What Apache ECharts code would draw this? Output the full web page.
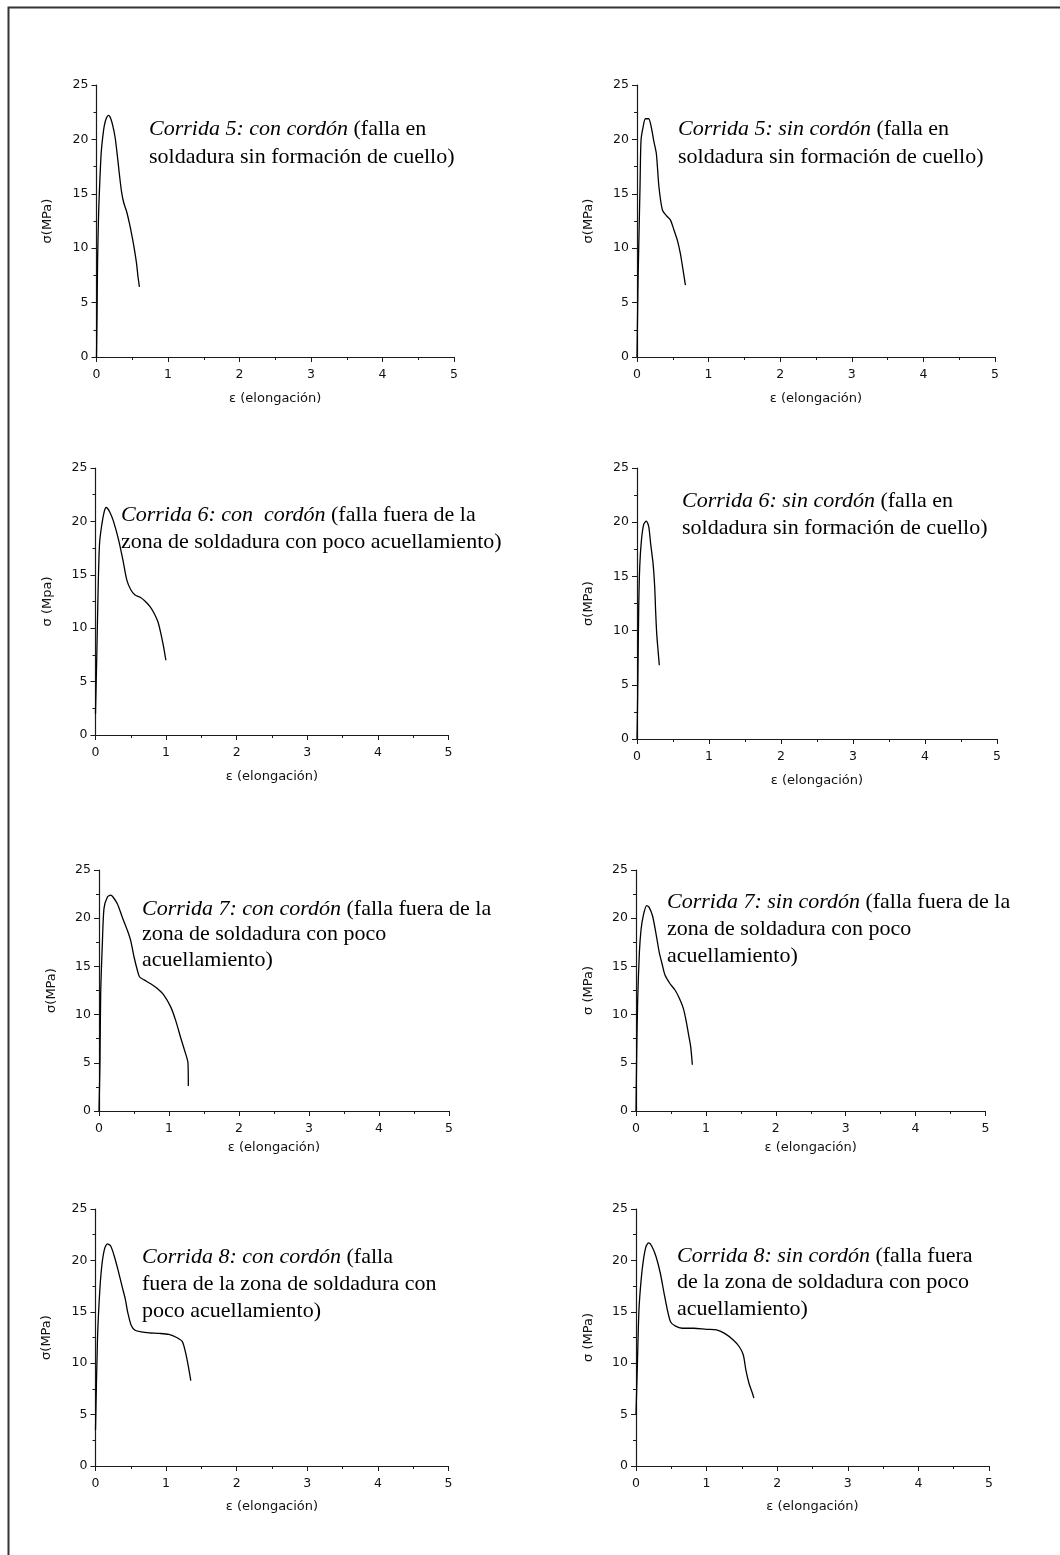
<!DOCTYPE html>
<html>
<head>
<meta charset="utf-8">
<script src="https://cdn.jsdelivr.net/npm/echarts@6/dist/echarts.min.js"></script>
<style>
html,body{margin:0;padding:0;background:#fff;}
#chart{width:1060px;height:1555px;}
</style>
</head>
<body>
<div id="chart"></div>
<script>
// ---- tick labels ----
var xTicks = [0, 1, 2, 3, 4, 5];
var yTicks = [0, 5, 10, 15, 20, 25];

// ---- Corrida 5: con cordón ----
var eps5con = [0, 0.008, 0.015, 0.03, 0.048, 0.066, 0.085, 0.11, 0.14, 0.17, 0.2, 0.23, 0.26, 0.29, 0.32, 0.35, 0.38, 0.42, 0.46, 0.5, 0.53, 0.56, 0.58, 0.6];
var sig5con = [0, 4, 8.8, 13.3, 16.4, 18.8, 20.1, 21.3, 22.0, 22.2, 21.9, 21.2, 20.2, 18.6, 16.8, 15.2, 14.2, 13.4, 12.3, 11.0, 9.9, 8.6, 7.4, 6.45];
// ---- Corrida 5: sin cordón ----
var eps5sin = [0, 0.005, 0.014, 0.028, 0.042, 0.056, 0.084, 0.117, 0.163, 0.2, 0.233, 0.27, 0.307, 0.355, 0.41, 0.466, 0.51, 0.565, 0.606, 0.643, 0.676];
var sig5sin = [0, 2.5, 6.7, 11.3, 15.6, 19.9, 21.1, 21.9, 21.9, 21.1, 19.9, 18.7, 15.6, 13.5, 13.0, 12.6, 11.8, 10.7, 9.5, 8.0, 6.6];
// ---- Corrida 6: con cordón ----
var eps6con = [0, 0.02, 0.038, 0.057, 0.085, 0.123, 0.152, 0.2, 0.255, 0.326, 0.388, 0.444, 0.5, 0.56, 0.633, 0.7, 0.775, 0.83, 0.884, 0.926, 0.963, 0.997];
var sig6con = [2, 8.0, 13.9, 17.9, 19.5, 20.9, 21.3, 20.9, 20.0, 18.3, 16.4, 14.5, 13.6, 13.1, 12.9, 12.55, 12.0, 11.4, 10.6, 9.5, 8.3, 7.0];
// ---- Corrida 6: sin cordón ----
var eps6sin = [0, 0.005, 0.014, 0.024, 0.038, 0.061, 0.093, 0.13, 0.163, 0.19, 0.223, 0.246, 0.26, 0.274, 0.292, 0.31];
var sig6sin = [0, 2.0, 6.6, 12.2, 15.9, 18.3, 19.8, 20.1, 19.6, 18.0, 16.2, 14.0, 11.6, 9.7, 8.2, 6.8];
// ---- Corrida 7: con cordón ----
var eps7con = [0, 0.014, 0.024, 0.048, 0.071, 0.12, 0.167, 0.2, 0.262, 0.333, 0.405, 0.452, 0.5, 0.548, 0.58, 0.643, 0.738, 0.833, 0.929, 1.024, 1.095, 1.167, 1.224, 1.271, 1.276];
var sig7con = [0, 5.2, 12.2, 17.4, 21.0, 22.2, 22.4, 22.2, 21.5, 20.1, 18.75, 17.7, 16.0, 14.6, 13.9, 13.6, 13.2, 12.7, 12.0, 10.8, 9.4, 7.6, 6.25, 5.0, 2.6];
// ---- Corrida 7: sin cordón ----
var eps7sin = [0, 0.01, 0.024, 0.048, 0.072, 0.105, 0.153, 0.19, 0.238, 0.286, 0.334, 0.372, 0.415, 0.487, 0.558, 0.62, 0.677, 0.716, 0.749, 0.782, 0.806];
var sig7sin = [0, 6.0, 11.5, 16.4, 18.8, 20.3, 21.3, 21.1, 20.2, 18.4, 16.4, 15.3, 14.1, 13.2, 12.55, 11.7, 10.65, 9.4, 8.05, 6.7, 4.8];
// ---- Corrida 8: con cordón ----
var eps8con = [0, 0.028, 0.061, 0.093, 0.131, 0.168, 0.215, 0.262, 0.318, 0.379, 0.42, 0.458, 0.505, 0.561, 0.645, 0.76, 0.9, 1.04, 1.15, 1.23, 1.28, 1.32, 1.35];
var sig8con = [3.5, 12.3, 17.1, 19.7, 21.2, 21.6, 21.4, 20.5, 19.1, 17.4, 16.3, 14.9, 13.7, 13.2, 13.05, 12.95, 12.9, 12.8, 12.5, 12.1, 10.9, 9.5, 8.3];
// ---- Corrida 8: sin cordón ----
var eps8sin = [0, 0.019, 0.042, 0.074, 0.106, 0.144, 0.18, 0.222, 0.282, 0.343, 0.398, 0.444, 0.491, 0.56, 0.653, 0.815, 1.0, 1.14, 1.255, 1.37, 1.463, 1.52, 1.556, 1.6, 1.648, 1.67];
var sig8sin = [5, 9.7, 15.2, 18.2, 20.1, 21.4, 21.7, 21.4, 20.4, 18.8, 16.8, 15.2, 14.0, 13.6, 13.4, 13.4, 13.3, 13.25, 12.9, 12.3, 11.6, 10.8, 9.35, 8.05, 7.1, 6.6];

// ---- annotation texts ----
var notes = [
  ["Corrida 5: con cordón", " (falla en", "soldadura sin formación de cuello)"],
  ["Corrida 5: sin cordón", " (falla en", "soldadura sin formación de cuello)"],
  ["Corrida 6: con  cordón", " (falla fuera de la", "zona de soldadura con poco acuellamiento)"],
  ["Corrida 6: sin cordón", " (falla en", "soldadura sin formación de cuello)"],
  ["Corrida 7: con cordón", " (falla fuera de la", "zona de soldadura con poco", "acuellamiento)"],
  ["Corrida 7: sin cordón", " (falla fuera de la", "zona de soldadura con poco", "acuellamiento)"],
  ["Corrida 8: con cordón", " (falla", "fuera de la zona de soldadura con", "poco acuellamiento)"],
  ["Corrida 8: sin cordón", " (falla fuera", "de la zona de soldadura con poco", "acuellamiento)"]
];
var yNames = ["σ(MPa)", "σ(MPa)", "σ (Mpa)", "σ(MPa)", "σ(MPa)", "σ (MPa)", "σ(MPa)", "σ (MPa)"];
var xName = "ε (elongación)";

var curves = [
  [eps5con, sig5con], [eps5sin, sig5sin],
  [eps6con, sig6con], [eps6sin, sig6sin],
  [eps7con, sig7con], [eps7sin, sig7sin],
  [eps8con, sig8con], [eps8sin, sig8sin]
];

// ---- layout (pixels) ----
var grids = [
  {left: 96.5, top: 85, width: 357.5, height: 272, xGap: 35, yGap: 42},
  {left: 637, top: 85, width: 358, height: 272, xGap: 35, yGap: 42},
  {left: 95.5, top: 468, width: 353, height: 267, xGap: 35, yGap: 41},
  {left: 637, top: 468, width: 360, height: 271, xGap: 35, yGap: 42},
  {left: 99, top: 870, width: 350, height: 241, xGap: 30, yGap: 41},
  {left: 636, top: 870, width: 349.5, height: 241, xGap: 30, yGap: 41},
  {left: 95.5, top: 1209, width: 353, height: 257, xGap: 34, yGap: 42},
  {left: 636, top: 1209, width: 353, height: 257, xGap: 34, yGap: 41}
];
var noteBoxes = [
  {x: 149, y: 118, lh: 28},
  {x: 678, y: 118, lh: 28},
  {x: 121, y: 504, lh: 27},
  {x: 682, y: 490, lh: 27.5},
  {x: 142, y: 898, lh: 25.5},
  {x: 667, y: 891.5, lh: 27},
  {x: 142, y: 1246.5, lh: 27},
  {x: 677, y: 1245, lh: 26.7}
];

var axisColor = '#1a1a1a';
var tickFont = 'DejaVu Sans';
var option = {
  backgroundColor: '#ffffff',
  animation: false,
  grid: [], xAxis: [], yAxis: [], series: [], graphic: []
};

grids.forEach(function (g, i) {
  option.grid.push({left: g.left, top: g.top, width: g.width, height: g.height, containLabel: false});
  option.xAxis.push({
    type: 'value', gridIndex: i,
    min: xTicks[0], max: xTicks[xTicks.length - 1], interval: xTicks[1] - xTicks[0],
    name: xName, nameLocation: 'middle', nameGap: g.xGap,
    nameTextStyle: {fontFamily: tickFont, fontSize: 13, color: '#111'},
    axisLine: {show: true, onZero: false, lineStyle: {color: axisColor, width: 1.2}},
    axisTick: {show: true, inside: false, length: 5, lineStyle: {color: axisColor, width: 1}},
    minorTick: {show: true, splitNumber: 2, length: 3, lineStyle: {color: axisColor, width: 1}},
    axisLabel: {fontFamily: tickFont, fontSize: 12.5, color: '#111', margin: 11},
    splitLine: {show: false}
  });
  option.yAxis.push({
    type: 'value', gridIndex: i,
    min: yTicks[0], max: yTicks[yTicks.length - 1], interval: yTicks[1] - yTicks[0],
    name: yNames[i], nameLocation: 'middle', nameGap: g.yGap, nameRotate: 90,
    nameTextStyle: {fontFamily: tickFont, fontSize: 13, color: '#111'},
    axisLine: {show: true, onZero: false, lineStyle: {color: axisColor, width: 1.2}},
    axisTick: {show: true, inside: false, length: 5, lineStyle: {color: axisColor, width: 1}},
    minorTick: {show: true, splitNumber: 2, length: 3, lineStyle: {color: axisColor, width: 1}},
    axisLabel: {fontFamily: tickFont, fontSize: 12.5, color: '#111', margin: 8},
    splitLine: {show: false}
  });
  var eps = curves[i][0], sig = curves[i][1];
  var data = eps.map(function (e, k) { return [e, sig[k]]; });
  option.series.push({
    type: 'line', xAxisIndex: i, yAxisIndex: i, data: data,
    showSymbol: false, smooth: 0.25, clip: false,
    lineStyle: {color: '#000', width: 1.3}
  });
  var n = notes[i];
  var txt = '{it|' + n[0] + '}{rm|' + n[1] + '}';
  for (var k = 2; k < n.length; k++) txt += '\n{rm|' + n[k] + '}';
  var b = noteBoxes[i];
  option.graphic.push({
    type: 'text', left: b.x, top: b.y, silent: true,
    style: {
      text: txt,
      fill: '#000',
      font: '22px "Liberation Serif"',
      rich: {
        it: {fontFamily: 'Liberation Serif', fontStyle: 'italic', fontSize: 22, lineHeight: b.lh, fill: '#000'},
        rm: {fontFamily: 'Liberation Serif', fontSize: 22, lineHeight: b.lh, fill: '#000'}
      }
    }
  });
});

option.graphic.push({
  type: 'rect', left: 6, top: 5, silent: true, z: 100,
  shape: {width: 1070, height: 1560},
  style: {fill: 'none', stroke: '#333', lineWidth: 2}
});

var chart = echarts.init(document.getElementById('chart'), null, {renderer: 'canvas'});
chart.setOption(option);
</script>
</body>
</html>
